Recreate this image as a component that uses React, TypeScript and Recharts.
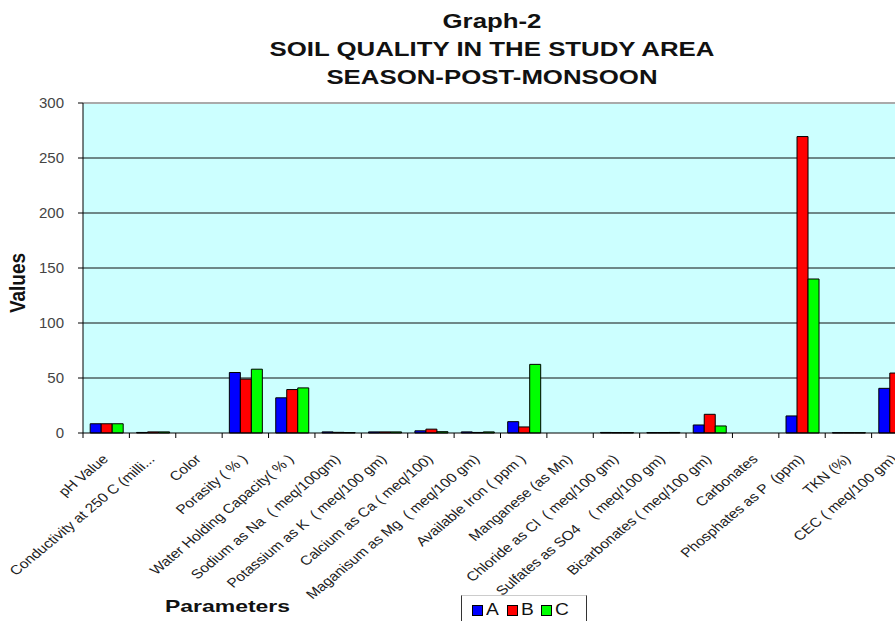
import { Bar, BarChart, CartesianGrid, ReferenceLine, XAxis, YAxis } from 'recharts';

const parameters = [
  'pH Value',
  'Conductivity at 250 C (milli...',
  'Color',
  'Porasity ( % )',
  'Water Holding Capacity( % )',
  'Sodium as Na  ( meq/100gm)',
  'Potassium as K  ( meq/100 gm)',
  'Calcium as Ca ( meq/100)',
  'Maganisum as Mg  ( meq/100 gm)',
  'Available Iron ( ppm )',
  'Manganese (as Mn)',
  'Chloride as Cl  ( meq/100 gm)',
  'Sulfates as SO4    ( meq/100 gm)',
  'Bicarbonates ( meq/100 gm)',
  'Carbonates',
  'Phosphates as P  (ppm)',
  'TKN (%)',
  'CEC ( meq/100 gm)',
];

const seriesA = [8.4, 0.5, 0, 55, 32, 1, 1, 2, 1, 10.3, 0, 0.5, 0.4, 7.3, 0, 15.5, 0.3, 40.6];
const seriesB = [8.4, 1, 0, 49, 39.5, 0.6, 1, 3.5, 0.5, 5.5, 0, 0.4, 0.4, 17, 0, 269.5, 0.3, 54.5];
const seriesC = [8.4, 1, 0, 58, 41, 0.4, 1, 1.2, 1, 62.4, 0, 0.4, 0.5, 6.4, 0, 140, 0.3, 50];

const yTicks = [0, 50, 100, 150, 200, 250, 300];
const gridValues = [50, 100, 150, 200, 250];

const data = parameters.map((name, i) => ({
  name,
  A: seriesA[i],
  B: seriesB[i],
  C: seriesC[i],
}));

const PLOT_LEFT = 83;
const PLOT_RIGHT = 918;
const HALF_BAND = (PLOT_RIGHT - PLOT_LEFT) / parameters.length / 2;
const FONT = 'Arial, "Liberation Sans", sans-serif';
const STRETCH = 1.2; // the source picture is widened a bit

const ParamTick = ({ x, y, payload }: any) => (
  <g>
    <line x1={x - HALF_BAND} y1={y} x2={x - HALF_BAND} y2={y + 5} stroke="#000" />
    <text
      textAnchor="end"
      fontSize={13}
      fontFamily={FONT}
      fill="#222"
      style={{ whiteSpace: 'pre' }}
      transform={`translate(${x + 3}, ${y + 27}) scale(${STRETCH}, 1) rotate(-45)`}
    >
      {payload.value}
    </text>
  </g>
);

export default function App() {
  return (
    <div
      style={{
        position: 'fixed',
        left: 0,
        top: 0,
        width: 895,
        height: 621,
        overflow: 'hidden',
        background: '#fff',
        fontFamily: FONT,
      }}
    >
      <div
        style={{
          position: 'absolute',
          left: 0,
          width: 984,
          top: 7,
          textAlign: 'center',
          fontWeight: 'bold',
          fontSize: 20,
          lineHeight: '28px',
          color: '#111',
          transform: 'scaleX(1.29)',
        }}
      >
        <div>Graph-2</div>
        <div>SOIL QUALITY IN THE STUDY AREA</div>
        <div>SEASON-POST-MONSOON</div>
      </div>
      <div
        style={{
          position: 'absolute',
          left: 18,
          top: 283,
          transform: 'translate(-50%, -50%) rotate(-90deg) scaleY(1.2)',
          fontWeight: 'bold',
          fontSize: 19,
          color: '#111',
        }}
      >
        Values
      </div>
      <div
        style={{
          position: 'absolute',
          left: 165,
          top: 597,
          fontWeight: 'bold',
          fontSize: 17,
          color: '#111',
          transform: 'scaleX(1.35)',
          transformOrigin: 'left top',
        }}
      >
        Parameters
      </div>
      <div
        style={{
          position: 'absolute',
          left: 461,
          top: 595,
          width: 126,
          height: 30,
          borderLeft: '1px solid #333',
          borderRight: '1px solid #333',
          borderTop: '1px solid #ccc',
          display: 'flex',
          alignItems: 'flex-start',
          paddingTop: 5,
          fontSize: 16,
          color: '#111',
          boxSizing: 'border-box',
        }}
      >
        {[
          ['A', '#0000ff'],
          ['B', '#ff0000'],
          ['C', '#00ff00'],
        ].map(([k, c]) => (
          <div key={k} style={{ display: 'flex', alignItems: 'center', marginLeft: 10 }}>
            <span style={{ display: 'inline-block', width: 9, height: 9, background: c, border: '1px solid #000', marginRight: 3 }} />
            <span style={{ lineHeight: '18px', display: 'inline-block', transform: 'scaleX(1.2)', transformOrigin: 'left' }}>{k}</span>
          </div>
        ))}
      </div>
      <BarChart
        width={960}
        height={621}
        data={data}
        margin={{ top: 103, right: 960 - PLOT_RIGHT, left: 23, bottom: 38 }}
        barCategoryGap="15.5%"
        barGap={0}
        style={{ position: 'absolute', left: 0, top: 0 }}
      >
        <CartesianGrid
          vertical={false}
          horizontalValues={gridValues}
          fill="#ccffff"
          stroke="#111"
          strokeOpacity={1}
        />
        <ReferenceLine y={300} stroke="#aaa" strokeWidth={2} />
        <XAxis
          dataKey="name"
          interval={0}
          height={150}
          tickSize={0}
          tickMargin={0}
          axisLine={{ stroke: '#000' }}
          tick={<ParamTick />}
        />
        <YAxis
          width={60}
          domain={[0, 300]}
          ticks={yTicks}
          tickSize={5}
          tickMargin={14}
          axisLine={{ stroke: '#000' }}
          tickLine={{ stroke: '#000' }}
          tick={{ fontSize: 15, fill: '#444', fontFamily: FONT }}
        />
        <Bar dataKey="A" fill="#0000ff" stroke="#000" strokeWidth={1} isAnimationActive={false} />
        <Bar dataKey="B" fill="#ff0000" stroke="#000" strokeWidth={1} isAnimationActive={false} />
        <Bar dataKey="C" fill="#00ff00" stroke="#000" strokeWidth={1} isAnimationActive={false} />
      </BarChart>
    </div>
  );
}
